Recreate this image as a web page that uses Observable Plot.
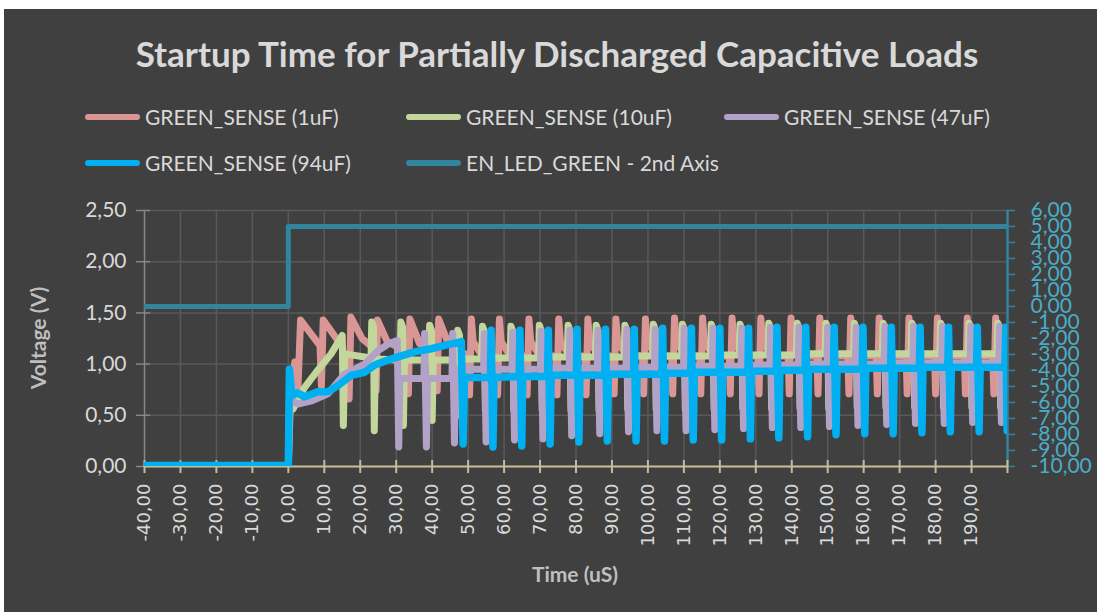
<!DOCTYPE html>
<html><head><meta charset="utf-8">
<script src="https://cdn.jsdelivr.net/npm/d3@7"></script>
<script src="https://cdn.jsdelivr.net/npm/@observablehq/plot@0.6"></script>
<style>
body{margin:0;background:#fff;}
#wrap{position:relative;width:1097px;height:612px;background:#fff;overflow:hidden;font-family:Lato,"Noto Sans",sans-serif;}
#bg{position:absolute;left:4px;top:9px;width:1093px;height:603px;background:#404040;}
#title{position:absolute;left:4px;width:1106px;top:32px;line-height:42px;text-align:center;font-weight:bold;font-size:35px;color:#d9d9d9;white-space:nowrap;}
.sw{position:absolute;width:55px;height:6px;border-radius:3px;}
.lt{position:absolute;font-size:21px;line-height:24px;color:#d9d9d9;white-space:nowrap;}
#ytitle{position:absolute;left:37px;top:338px;transform:translate(-50%,-50%) rotate(-90deg);font-weight:bold;font-size:21px;color:#bfbfbf;white-space:nowrap;}
#xtitle{position:absolute;left:575px;top:573px;transform:translate(-50%,-50%);font-weight:bold;font-size:21px;color:#bfbfbf;white-space:nowrap;}
#chart{position:absolute;left:0;top:190px;}
</style></head>
<body>
<div id="wrap">
  <div id="bg"></div>
  <div id="title"></div>
  <div id="legend"></div>
  <div id="ytitle"></div>
  <div id="xtitle"></div>
  <div id="chart"></div>
</div>
<script>
const titleText = "Startup Time for Partially Discharged Capacitive Loads";
const yTitle = "Voltage (V)";
const xTitle = "Time (uS)";
const seriesNames = ["GREEN_SENSE (1uF)", "GREEN_SENSE (10uF)", "GREEN_SENSE (47uF)", "GREEN_SENSE (94uF)", "EN_LED_GREEN - 2nd Axis"];
const seriesColors = ["#d99694", "#c3d69b", "#b3a2c7", "#00b0f0", "#31859c"];

const xDomain = [-40, 200];
const yDomain = [0, 2.5];
const y2Domain = [-10, 6];
const xLabels = [-40,-30,-20,-10,0,10,20,30,40,50,60,70,80,90,100,110,120,130,140,150,160,170,180,190];
const xTickMarks = [-40,-30,-20,-10,0,10,20,30,40,50,60,70,80,90,100,110,120,130,140,150,160,170,180,190,200];
const yTicks = [0, 0.5, 1, 1.5, 2, 2.5];
const y2Ticks = [-10,-9,-8,-7,-6,-5,-4,-3,-2,-1,0,1,2,3,4,5,6];

// GREEN_SENSE (1uF) [time uS, volts]
const sense1uF = [
[-40,0.01],[0,0.01],[0.4,0.64],[1.8,1.02],[2.6,0.70],[3.4,1.43],[8.8,1.18],[9.2,0.79],[9.7,1.43],[15.0,1.17],
[16.9,0.66],[17.4,1.46],[20.5,1.25],[23.9,1.15],[24.4,0.74],[24.8,1.43],[27.5,1.22],[33.1,1.12],
[33.4,0.71],[33.8,1.44],[36.5,1.20],[41.1,1.10],[41.4,0.74],[41.8,1.44],[44.5,1.20],[50.1,1.08],
[50.4,0.70],[50.9,1.44],[51.4,1.22],[53.9,1.08],[57.9,1.08],
[58.2,0.70],[58.7,1.44],[59.2,1.22],[61.7,1.08],[66.1,1.08],
[66.4,0.70],[66.9,1.44],[67.4,1.22],[69.9,1.08],[74.4,1.08],
[74.7,0.70],[75.2,1.44],[75.7,1.22],[78.2,1.08],[82.5,1.08],
[82.8,0.70],[83.3,1.44],[83.8,1.22],[86.3,1.08],[90.3,1.08],
[90.6,0.71],[91.1,1.44],[91.6,1.22],[94.1,1.08],[98.5,1.08],
[98.8,0.71],[99.3,1.44],[99.8,1.22],[102.3,1.08],[106.6,1.08],
[106.9,0.71],[107.4,1.45],[107.9,1.22],[110.4,1.08],[114.4,1.08],
[114.7,0.71],[115.2,1.45],[115.7,1.22],[118.2,1.08],[122.6,1.08],
[122.9,0.71],[123.4,1.45],[123.9,1.22],[126.4,1.08],[130.6,1.08],
[130.9,0.71],[131.4,1.45],[131.9,1.22],[134.4,1.08],[139.0,1.08],
[139.3,0.71],[139.8,1.45],[140.3,1.22],[142.8,1.08],[147.0,1.08],
[147.3,0.71],[147.8,1.45],[148.3,1.22],[150.8,1.08],[155.6,1.08],
[155.9,0.71],[156.4,1.45],[156.9,1.22],[159.4,1.08],[163.5,1.08],
[163.8,0.71],[164.3,1.45],[164.8,1.22],[167.3,1.08],[171.8,1.08],
[172.1,0.71],[172.6,1.45],[173.1,1.22],[175.6,1.08],[179.7,1.08],
[180.0,0.71],[180.5,1.45],[181.0,1.22],[183.5,1.08],[188.0,1.08],
[188.3,0.71],[188.8,1.45],[189.3,1.22],[191.8,1.08],[195.9,1.08],
[196.2,0.71],[196.7,1.45],[197.2,1.22],[199.7,1.08],[200,1.08]
];

// GREEN_SENSE (10uF)
const sense10uF = [
[-40,0.01],[0,0.01],[0.5,0.56],[1.3,0.56],[4.5,0.77],[8.2,0.94],[11.9,1.10],[15.0,1.28],[15.3,0.40],[15.7,1.10],
[23.0,1.06],[23.2,1.41],[23.7,1.36],[23.9,0.35],[24.2,1.05],
[31.1,1.04],[31.3,1.41],[31.8,1.36],[32.0,0.40],[32.3,1.04],
[39.1,1.04],[39.3,1.38],[39.8,1.33],[40.0,0.45],[40.3,1.04],
[46.9,1.04],[47.1,1.33],[47.6,1.28],[47.8,0.50],[48.1,1.05],
[53.8,1.05],[54.0,1.37],[54.5,1.32],[54.8,0.55],[55.1,1.06],
[61.7,1.06],[61.9,1.37],[62.4,1.32],[62.7,0.55],[63.0,1.06],
[69.6,1.06],[69.8,1.38],[70.3,1.33],[70.6,0.55],[70.9,1.07],
[77.6,1.07],[77.8,1.38],[78.3,1.33],[78.6,0.55],[78.9,1.07],
[85.4,1.07],[85.6,1.38],[86.1,1.33],[86.4,0.55],[86.7,1.07],
[93.4,1.07],[93.6,1.38],[94.1,1.33],[94.4,0.56],[94.7,1.08],
[101.3,1.08],[101.5,1.39],[102.0,1.34],[102.3,0.56],[102.6,1.08],
[109.4,1.08],[109.6,1.39],[110.1,1.34],[110.4,0.56],[110.7,1.08],
[117.4,1.08],[117.6,1.39],[118.1,1.34],[118.4,0.56],[118.7,1.09],
[125.4,1.09],[125.6,1.39],[126.1,1.34],[126.4,0.57],[126.7,1.09],
[133.4,1.09],[133.6,1.40],[134.1,1.35],[134.4,0.57],[134.7,1.09],
[141.3,1.09],[141.5,1.40],[142.0,1.35],[142.3,0.57],[142.6,1.10],
[149.3,1.10],[149.5,1.40],[150.0,1.35],[150.3,0.57],[150.6,1.10],
[157.2,1.10],[157.4,1.40],[157.9,1.35],[158.2,0.58],[158.5,1.10],
[165.2,1.10],[165.4,1.40],[165.9,1.35],[166.2,0.58],[166.5,1.10],
[173.2,1.10],[173.4,1.40],[173.9,1.35],[174.2,0.58],[174.5,1.10],
[181.2,1.10],[181.4,1.40],[181.9,1.35],[182.2,0.58],[182.5,1.10],
[189.1,1.10],[189.3,1.40],[189.8,1.35],[190.1,0.58],[190.4,1.10],
[197.1,1.10],[197.3,1.40],[197.8,1.35],[198.1,0.58],[198.4,1.10],[200,1.10]
];

// GREEN_SENSE (47uF)
const sense47uF = [
[-40,0.01],[0,0.01],[0.3,0.66],[2.7,0.61],[6.4,0.64],[11.0,0.71],[15.6,0.90],[21.2,1.00],[24.9,1.13],[28.0,1.20],[30.3,1.23],[30.7,0.19],[31.0,0.86],
[37.7,0.86],[37.9,1.30],[38.4,0.19],[38.7,0.86],
[45.5,0.86],[45.7,1.30],[46.2,0.23],[46.5,0.95],
[54.3,0.95],[54.5,1.30],[55.0,0.24],[55.3,0.95],
[62.2,0.95],[62.4,1.31],[62.9,0.26],[63.2,0.95],
[70.1,0.95],[70.3,1.32],[70.8,0.27],[71.1,0.96],
[78.1,0.96],[78.3,1.33],[78.8,0.30],[79.1,0.96],
[85.9,0.96],[86.1,1.33],[86.6,0.32],[86.9,0.96],
[93.9,0.96],[94.1,1.34],[94.6,0.34],[94.9,0.97],
[101.8,0.97],[102.0,1.34],[102.5,0.35],[102.8,0.97],
[109.9,0.97],[110.1,1.35],[110.6,0.35],[110.9,0.98],
[117.9,0.98],[118.1,1.35],[118.6,0.36],[118.9,0.98],
[125.9,0.98],[126.1,1.35],[126.6,0.37],[126.9,0.99],
[133.9,0.99],[134.1,1.36],[134.6,0.38],[134.9,0.99],
[141.8,0.99],[142.0,1.36],[142.5,0.38],[142.8,1.00],
[149.8,1.00],[150.0,1.36],[150.5,0.39],[150.8,1.00],
[157.7,1.00],[157.9,1.36],[158.4,0.40],[158.7,1.00],
[165.7,1.00],[165.9,1.37],[166.4,0.41],[166.7,1.01],
[173.7,1.01],[173.9,1.37],[174.4,0.42],[174.7,1.01],
[181.7,1.01],[181.9,1.37],[182.4,0.42],[182.7,1.01],
[189.6,1.01],[189.8,1.37],[190.3,0.43],[190.6,1.01],
[197.6,1.01],[197.8,1.37],[198.3,0.43],[198.6,1.01],[200,1.01]
];

// GREEN_SENSE (94uF)
const sense94uF = [
[-40,0.01],[0,0.01],[0.3,0.95],[1.0,0.69],[2.5,0.72],[4.5,0.68],[8.2,0.73],[11.0,0.73],[13.8,0.79],[17.5,0.89],[21.2,0.92],
[24.0,0.99],[27.7,1.04],[30.5,1.07],[35.1,1.12],[39.7,1.15],[44.4,1.19],[48.1,1.22],[48.6,0.22],[49.0,0.87],
[56.2,0.87],[56.4,1.33],[56.9,0.19],[57.2,0.87],
[64.2,0.88],[64.4,1.33],[64.9,0.20],[65.2,0.88],
[72.1,0.88],[72.3,1.33],[72.8,0.22],[73.1,0.89],
[80.1,0.89],[80.3,1.34],[80.8,0.24],[81.1,0.89],
[88.0,0.89],[88.2,1.34],[88.7,0.25],[89.0,0.90],
[96.0,0.90],[96.2,1.34],[96.7,0.25],[97.0,0.90],
[103.9,0.90],[104.1,1.35],[104.6,0.25],[104.9,0.91],
[111.9,0.91],[112.1,1.35],[112.6,0.26],[112.9,0.92],
[119.8,0.92],[120.0,1.35],[120.5,0.26],[120.8,0.92],
[127.8,0.92],[128.0,1.35],[128.5,0.27],[128.8,0.93],
[135.7,0.93],[135.9,1.36],[136.4,0.28],[136.7,0.94],
[143.7,0.94],[143.9,1.36],[144.4,0.29],[144.7,0.95],
[151.6,0.95],[151.8,1.36],[152.3,0.31],[152.6,0.95],
[159.6,0.95],[159.8,1.36],[160.3,0.32],[160.6,0.96],
[167.5,0.96],[167.7,1.36],[168.2,0.32],[168.5,0.96],
[175.5,0.96],[175.7,1.36],[176.2,0.33],[176.5,0.97],
[183.4,0.97],[183.6,1.36],[184.1,0.34],[184.4,0.97],
[191.4,0.97],[191.6,1.36],[192.1,0.34],[192.4,0.97],
[199.3,0.97],[199.5,1.36],[199.9,0.35]
];

// EN_LED_GREEN (secondary axis, volts)
const enLedT = [-40, 0, 0, 200];
const enLedV = [0, 0, 5, 5];

const fmt = d => (Math.round(d * 100) / 100).toFixed(2).replace(".", ",");
const toP = v => (v - y2Domain[0]) * (yDomain[1] - yDomain[0]) / (y2Domain[1] - y2Domain[0]) + yDomain[0];
const fromP = p => (p - yDomain[0]) * (y2Domain[1] - y2Domain[0]) / (yDomain[1] - yDomain[0]) + y2Domain[0];

document.getElementById("title").textContent = titleText;
document.getElementById("ytitle").textContent = yTitle;
document.getElementById("xtitle").textContent = xTitle;

const legendPos = [[85,117],[406,117],[724,117],[85,163],[406,163]];
const leg = document.getElementById("legend");
seriesNames.forEach((name, i) => {
  const [lx, ly] = legendPos[i];
  const sw = document.createElement("div");
  sw.className = "sw"; sw.style.left = lx + "px"; sw.style.top = (ly - 3) + "px"; sw.style.background = seriesColors[i];
  const t = document.createElement("div");
  t.className = "lt"; t.style.left = (lx + 60) + "px"; t.style.top = (ly - 12) + "px"; t.textContent = name;
  leg.appendChild(sw); leg.appendChild(t);
});

const grid = "#595959", axisGray = "#868686", beige = "#c4bd97", teal = "#31859c", tealText = "#4bacc6";
const lineOpts = (c, w) => ({x: d => d[0], y: d => d[1], stroke: c, strokeWidth: w, strokeLinejoin: "round", strokeLinecap: "round", clip: true});

const chart = Plot.plot({
  width: 1097, height: 410,
  marginLeft: 144, marginRight: 90, marginTop: 20, marginBottom: 134,
  x: {domain: xDomain},
  y: {domain: yDomain},
  style: {background: "transparent", color: "#d9d9d9", fontFamily: "Lato, sans-serif", fontSize: "21px", overflow: "visible"},
  marks: [
    Plot.gridY(yTicks, {stroke: grid, strokeOpacity: 1, strokeWidth: 1.5}),
    Plot.gridX(xTickMarks.slice(1, -1), {stroke: grid, strokeOpacity: 1, strokeWidth: 1.5}),
    Plot.ruleX([xDomain[0]], {y1: yDomain[0], y2: yDomain[1], stroke: axisGray, strokeWidth: 1.5}),
    Plot.ruleY(yTicks, {y: d => d, x1: xDomain[0], x2: xDomain[0], insetLeft: -8, insetRight: -6, stroke: axisGray, strokeWidth: 1.5}),
    Plot.ruleX([xDomain[1]], {y1: yDomain[0], y2: yDomain[1], stroke: teal, strokeWidth: 2.5}),
    Plot.ruleY(y2Ticks.map(toP), {y: d => d, x1: xDomain[1], x2: xDomain[1], insetLeft: 0, insetRight: -8, stroke: teal, strokeWidth: 1.5}),
    Plot.ruleY([yDomain[0]], {x1: xDomain[0], x2: xDomain[1], stroke: beige, strokeWidth: 2}),
    Plot.ruleX(xTickMarks, {x: d => d, y1: yDomain[0], y2: yDomain[0], insetTop: -6, insetBottom: -7, stroke: beige, strokeWidth: 2}),
    Plot.line(sense1uF, lineOpts(seriesColors[0], 7)),
    Plot.line(sense10uF, lineOpts(seriesColors[1], 7)),
    Plot.line(sense47uF, lineOpts(seriesColors[2], 7)),
    Plot.line(sense94uF, lineOpts(seriesColors[3], 7.5)),
    Plot.line(enLedT.map((t, i) => [t, toP(enLedV[i])]), lineOpts(seriesColors[4], 5)),
    Plot.axisY({anchor: "left", ticks: yTicks, tickFormat: fmt, tickSize: 0, tickPadding: 18, label: null, fill: "#d9d9d9", fontSize: 21}),
    Plot.axisY({anchor: "right", ticks: y2Ticks.map(toP), tickFormat: d => fmt(fromP(d)), tickSize: 0, tickPadding: 23, label: null, fill: tealText, fontSize: 21}),
    Plot.axisX({ticks: xLabels, tickFormat: fmt, tickRotate: -90, tickSize: 0, tickPadding: 17, label: null, fill: "#d9d9d9", fontSize: 18, fontFamily: "DejaVu Sans"})
  ]
});
document.getElementById("chart").appendChild(chart);
</script>
</body></html>
